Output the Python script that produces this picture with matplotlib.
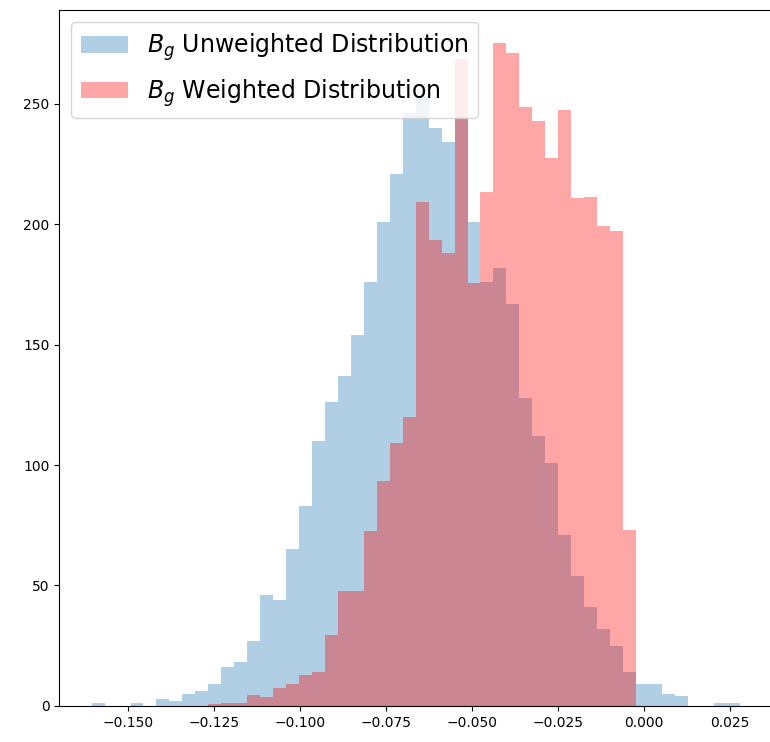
import matplotlib
matplotlib.use('Agg')
import matplotlib.pyplot as plt
import numpy as np

# 50 shared bins
bin_lo = -0.1605
bin_hi = 0.0279
n_bins = 50

# counts per bin
unweighted = [1, 0, 0, 1, 0, 3, 2, 5, 6, 9,
              16, 18, 27, 46, 44, 65, 83, 110, 126, 137,
              154, 176, 201, 221, 246, 253, 240, 234, 244, 201,
              176, 182, 167, 128, 112, 101, 71, 54, 41, 32,
              25, 14, 9, 9, 5, 4, 0, 0, 1, 1]

weighted = [0, 0, 0, 0, 0, 0, 0, 0, 0, 0.6,
            1.2, 1.2, 4.4, 3.5, 7.3, 8.9, 12.7, 14.1, 29.3, 47.6,
            47.6, 72.8, 93.4, 109.3, 120.0, 209.1, 193.3, 187.9, 268.6, 175.7,
            213.5, 275.3, 271.1, 248.8, 242.7, 227.7, 247.4, 210.8, 211.3, 199.3,
            197.1, 72.9, 0, 0, 0, 0, 0, 0, 0, 0]

labels = [r'$B_g$ Unweighted Distribution', r'$B_g$ Weighted Distribution']


def main():
    edges = np.linspace(bin_lo, bin_hi, n_bins + 1)
    centers = (edges[:-1] + edges[1:]) / 2

    fig = plt.figure(figsize=(7.7, 7.42), dpi=100)
    # right edge of the axes sits past the image border, as in the crop
    ax = fig.add_axes([0.077, 0.0488, 0.931, 0.938])

    ax.hist(centers, bins=edges, weights=unweighted, color='C0', alpha=0.35,
            label=labels[0])
    ax.hist(centers, bins=edges, weights=weighted, color='red', alpha=0.35,
            label=labels[1])
    ax.set_xlim(-0.1699, 0.0385)
    ax.spines['right'].set_visible(False)

    ax.legend(loc='upper left', fontsize=17, labelspacing=0.6, borderpad=0.4)
    ax.tick_params(labelsize=10)

    fig.savefig('out.png', dpi=100)


if __name__ == '__main__':
    main()
